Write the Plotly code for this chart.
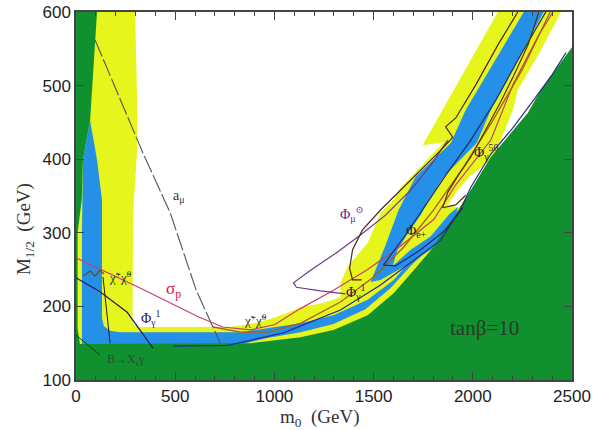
import plotly.graph_objects as go

# ---------------- data (m0 [GeV], M1/2 [GeV]) ----------------
green_m0 = [0, 2500, 2500, 2343, 2278, 2091, 1990, 1904, 1853, 1803, 1702, 1601, 1470, 1298, 1131, 965, 879, 20, 8, 8, 29, 35, 71, 106, 0]
green_M  = [100, 100, 552, 494, 463, 403, 358, 321, 304, 281, 249, 218, 188, 168, 158, 153, 150, 149, 170, 300, 345, 399, 453, 600, 600]

yellow_m0 = [0, 298, 308, 308, 288, 283, 285, 292, 305, 323, 778, 879, 980, 1081, 1131, 1232, 1298, 1333, 1333, 1369, 1470, 1535, 1601, 1636, 1853, 1747, 2126, 2500, 2500, 0]
yellow_M  = [600, 600, 480, 412, 327, 200, 181, 175, 173, 172, 172, 176, 183, 193, 199, 204, 209, 213, 232, 254, 286, 327, 345, 361, 423, 419, 600, 600, 100, 100]

white_m0 = [2444, 2500, 2500, 2343, 2278, 2091, 1990, 1930, 1874, 1924, 1990, 2091, 2141, 2202, 2227, 2343]
white_M  = [600, 600, 552, 494, 463, 403, 358, 334, 338, 358, 378, 399, 426, 467, 494, 548]

blueU_m0 = [71, 106, 131, 131, 141, 172, 222, 828, 980, 1131, 1298, 1470, 1601, 1702, 1803, 1880, 1925, 1914, 1823, 1687, 1586, 1459, 1298, 1131, 965, 828, 30, 30, 35]
blueU_M  = [453, 399, 345, 184, 173, 167, 165, 165, 171, 177, 188, 209, 236, 267, 300, 325, 335, 322, 290, 255, 225, 196, 176, 165, 157, 148, 148, 300, 399]

blueV_m0 = [2257, 1964, 1889, 1712, 1626, 1560, 1485, 1535, 1687, 1838, 1939, 1914, 1838, 1687, 1596, 1621, 1677, 1737, 1778, 1853, 2020, 2091, 2358]
blueV_M  = [600, 467, 422, 376, 331, 283, 233, 236, 259, 286, 320, 328, 304, 277, 255, 277, 301, 324, 345, 376, 422, 467, 600]

# contour lines
amu_m0 = [96, 338, 475, 606, 727]
amu_M  = [562, 408, 327, 222, 150]

sigp_m0 = [0, 323, 616, 740, 880, 1000, 1131, 1298, 1470, 1636, 1803, 1914, 2091, 2202, 2333, 2404]
sigp_M  = [266, 225, 186, 172, 168, 175, 197, 222, 250, 282, 318, 365, 426, 501, 569, 600]

chi_m0 = [692, 828, 965, 1131, 1333, 1500, 1650, 1800, 1950, 2100, 2250, 2390]
chi_M  = [172, 165, 165, 177, 206, 240, 280, 330, 388, 452, 522, 600]

chiw_m0 = [35, 71, 96, 121, 141]
chiw_M  = [241, 248, 241, 249, 244]

phig1_m0 = [0, 121, 258, 389]
phig1_M  = [239, 220, 192, 143]

blk_m0 = [136, 172]
blk_M  = [240, 150]

bsg_m0 = [0, 121]
bsg_M  = [161, 134]

navy_m0 = [490, 763, 1045, 1333, 1535, 1687, 1838, 1939, 1990, 2091, 2200, 2300, 2400, 2470]
navy_M  = [146, 147, 164, 195, 229, 260, 290, 332, 362, 407, 442, 478, 515, 545]

phimu_m0 = [1358, 1232, 1111, 1096, 1182, 1308, 1434, 1560, 1687, 1788, 1874]
phimu_M  = [217, 221, 226, 232, 249, 272, 297, 324, 358, 392, 426]

c1_m0 = [2227, 2126, 2015, 1914, 1863, 1899, 1838, 1737, 1636, 1535, 1444, 1394, 1379, 1394, 1440]
c1_M  = [600, 555, 501, 456, 444, 430, 412, 385, 358, 331, 304, 277, 252, 236, 236]

phie_m0 = [2368, 2242, 2116, 1990, 1863, 1762, 1661, 1576, 1550, 1611, 1737, 1863, 1949]
phie_M  = [600, 542, 480, 426, 378, 338, 297, 266, 256, 255, 277, 304, 334]

phi50_m0 = [2333, 2278, 2207, 2141, 2065, 1990, 1929, 1874, 1848, 1914, 1964]
phi50_M  = [600, 555, 514, 478, 440, 403, 379, 355, 334, 338, 351]

# labels
lab_text = ["a<sub>μ</sub>", "σ<sub>p</sub>", "χ̃<sup>+</sup>χ̃<sup>0</sup>", "χ̃<sup>+</sup>χ̃<sup>0</sup>",
            "Φ<sub>γ</sub><sup>1</sup>", "B→X<sub>s</sub>γ", "Φ<sub>μ</sub><sup>⊙</sup>",
            "Φ<sub>γ</sub><sup>1</sup>", "Φ<sub>e+</sub>", "Φ<sub>γ</sub><sup>50</sup>", "tanβ=10"]
lab_x = [515, 490, 225, 905, 378, 250, 1390, 1410, 1718, 2065, 2060]
lab_y = [350, 222, 240, 182, 184, 127, 326, 219, 302, 410, 170]
lab_color = ["#333333", "#d0204f", "#333333", "#333333", "#2a1a4a", "#2d4d2d", "#5a2a8a",
             "#2a1a3a", "#1a1a4a", "#2a1a3a", "#2a3a2a"]
lab_size = [14, 17, 13, 13, 14, 12, 14, 14, 14, 14, 21]

xticks = [0, 500, 1000, 1500, 2000, 2500]
yticks = [100, 200, 300, 400, 500, 600]

GREEN = "#10902f"
YELLOW = "#e6f51c"
BLUE = "#2590e8"

fig = go.Figure()

def poly(xs, ys, color):
    fig.add_trace(go.Scatter(x=xs, y=ys, fill="toself", fillcolor=color, mode="lines",
                             line=dict(width=0, color=color), hoverinfo="skip", showlegend=False))

def curve(xs, ys, color, width=1.2, dash="solid"):
    fig.add_trace(go.Scatter(x=xs, y=ys, mode="lines", line=dict(color=color, width=width, dash=dash),
                             hoverinfo="skip", showlegend=False))

poly(yellow_m0, yellow_M, YELLOW)
poly(white_m0, white_M, "white")
poly(blueU_m0, blueU_M, BLUE)
poly(blueV_m0, blueV_M, BLUE)
poly(green_m0, green_M, GREEN)

curve(amu_m0, amu_M, "#555555", 1.1, "18px,3px")
curve(sigp_m0, sigp_M, "#c8406a", 1.2)
curve(chi_m0, chi_M, "#a8601a", 1.3)
curve(chiw_m0, chiw_M, "#6a4a1a", 1.2)
curve(phig1_m0, phig1_M, "#1a2060", 1.2)
curve(blk_m0, blk_M, "#222222", 1.0)
curve(bsg_m0, bsg_M, "#1f3a1f", 1.0)
curve(navy_m0, navy_M, "#2a2a90", 1.2)
curve(phimu_m0, phimu_M, "#6a3a8a", 1.2)
curve(c1_m0, c1_M, "#4a2a1a", 1.2)
curve(phie_m0, phie_M, "#1a2a70", 1.2)
curve(phi50_m0, phi50_M, "#5a3010", 1.2)

for t, x, y, c, s in zip(lab_text, lab_x, lab_y, lab_color, lab_size):
    fig.add_annotation(x=x, y=y, text=t, showarrow=False,
                       font=dict(family="Liberation Serif, DejaVu Serif, serif", size=s, color=c))

fig.add_annotation(xref="paper", yref="paper", x=0.49, y=-0.102, yanchor="middle",
                   text="m<sub>0</sub>  (GeV)",
                   showarrow=False, font=dict(family="Liberation Serif, serif", size=19, color="#333333"))
fig.add_annotation(xref="paper", yref="paper", x=-0.103, y=0.41, xanchor="center",
                   text="M<sub>1/2</sub>  (GeV)",
                   textangle=-90, showarrow=False,
                   font=dict(family="Liberation Serif, serif", size=19, color="#333333"))

axis_common = dict(showgrid=False, zeroline=False, showline=True, linecolor="#444444", linewidth=1.5,
                   mirror="ticks", ticks="inside", ticklen=8, tickcolor="#444444", tickwidth=1.2,
                   automargin=False,
                   tickfont=dict(family="Liberation Sans, Arial, sans-serif", size=17, color="#222222"),
                   minor=dict(ticks="inside", ticklen=4, dtick=100, tickcolor="#444444"))

fig.update_layout(
    width=601, height=430,
    margin=dict(l=76, r=29, t=12, b=50, autoexpand=False),
    paper_bgcolor="white", plot_bgcolor="white",
    xaxis=dict(range=[0, 2500], tickvals=xticks, **axis_common),
    yaxis=dict(range=[100, 600], tickvals=yticks, **axis_common),
    showlegend=False,
)

# remove the default page margin so the figure sits at the window's top-left corner
fig.write_html("out.html", config={"displayModeBar": False},
               post_script="document.body.style.margin='0';")
